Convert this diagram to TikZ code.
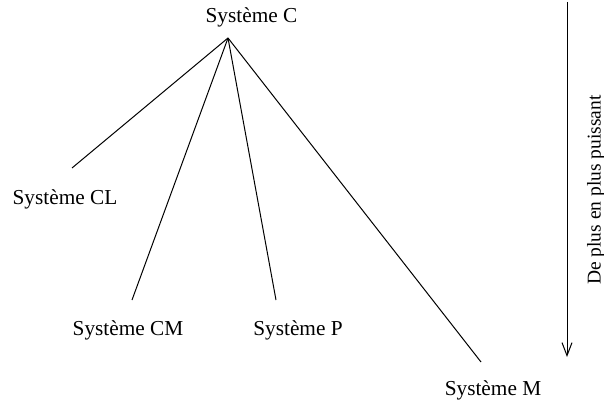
\documentclass[tikz,border=0pt]{standalone}
\usepackage{fontspec}
\setmainfont{Liberation Serif}
\usetikzlibrary{arrows.meta}

\begin{document}
\begin{tikzpicture}[x=1pt,y=-1pt,
                line width=1pt,
                sys/.style={font=\fontsize{21.3}{25}\selectfont,inner sep=0pt},
                lien/.style={draw,line width=1pt}]
                \useasboundingbox (0,0) rectangle (604,406);
                % systemes
                \node[sys](sysC) at (251.5,17) {Système C};
                \node[sys](sysCL) at (65,199) {Système CL};
                \node[sys](sysCM) at (128,330) {Système CM};
                \node[sys](sysP) at (298,330) {Système P};
                \node[sys](sysM) at (493,390) {Système M};
                \coordinate (top) at (228,38);
                \coordinate (endCL) at (72,168);
                \coordinate (endCM) at (132,300);
                \coordinate (endP) at (276,300);
                \coordinate (endM) at (481,362);
                \draw[lien] (top) -- (endCL);
                \draw[lien] (top) -- (endCM);
                \draw[lien] (top) -- (endP);
                \draw[lien] (top) -- (endM);
                % fleche
                \coordinate (fA) at (567,2);
                \coordinate (fB) at (567,357);
                \draw[-{Straight Barb[length=13pt,width=10pt]}] (fA) -- (fB);
                \node[sys,font=\fontsize{19.5}{23}\selectfont,rotate=90](puiss) at (596,190) {De plus en plus puissant};
\end{tikzpicture}
\end{document}
